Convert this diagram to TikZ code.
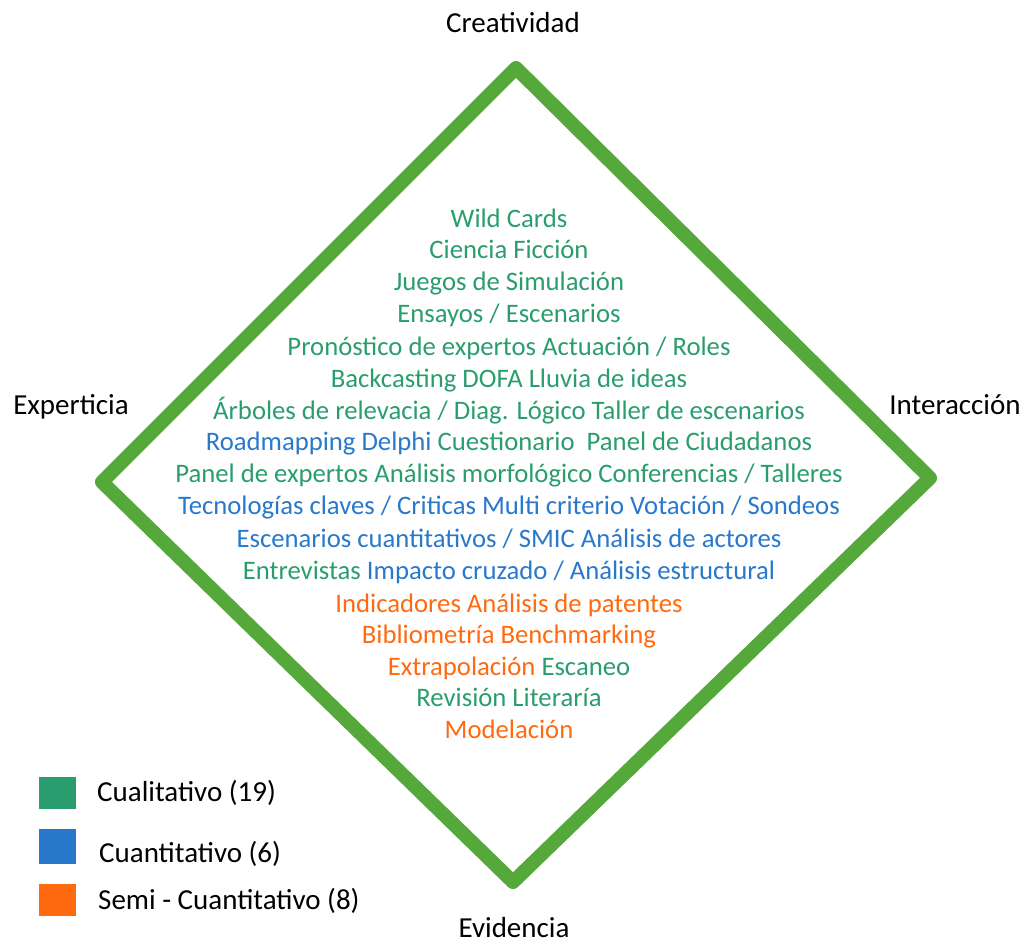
\documentclass[tikz,border=0pt]{standalone}
\usepackage{fontspec}
\setmainfont{Carlito}
\definecolor{dgreen}{HTML}{55A83A}
\definecolor{qgreen}{HTML}{2A9D6E}
\definecolor{qblue}{HTML}{2878CC}
\definecolor{qorange}{HTML}{FF6A10}
\tikzset{
  line/.style={font=\fontsize{26.7}{30}\selectfont, inner sep=0pt, text height=0.72em, text depth=0.22em, anchor=center},
  corner/.style={font=\fontsize{29}{33}\selectfont, inner sep=0pt, text height=0.72em, text depth=0.22em, text=black},
  legbox/.style={draw=none, minimum width=37pt, minimum height=32pt, inner sep=0pt},
  legtext/.style={font=\fontsize{29}{33}\selectfont, inner sep=0pt, anchor=west, text height=0.72em, text depth=0.22em}
}
\newcommand{\cg}[1]{\textcolor{qgreen}{#1}}
\newcommand{\cb}[1]{\textcolor{qblue}{#1}}
\newcommand{\co}[1]{\textcolor{qorange}{#1}}
\begin{document}
\begin{tikzpicture}[x=1pt,y=-1pt]
\useasboundingbox (0,0) rectangle (1023,943);
\coordinate (T) at (516,68);
\coordinate (R) at (930,478);
\coordinate (B) at (513,882);
\coordinate (L) at (102,482);
\draw[dgreen, line width=14pt, line join=round] (T) -- (R) -- (B) -- (L) -- cycle;

\node[corner] (c) at (513,30) {Creatividad};
\node[corner] (e) at (71,412) {Experticia};
\node[corner] (i) at (955,412) {Interacción};
\node[corner, text depth=0pt] (v) at (514,934) {Evidencia};

\node[line] (l1) at (509,225) {\cg{Wild Cards}};
\node[line] (l2) at (509,256) {\cg{Ciencia Ficción}};
\node[line] (l3) at (509,288) {\cg{Juegos de Simulación}};
\node[line] (l4) at (509,320) {\cg{Ensayos / Escenarios}};
\node[line] (l5) at (509,353) {\cg{Pronóstico de expertos Actuación / Roles}};
\node[line] (l6) at (509,385) {\cg{Backcasting DOFA Lluvia de ideas}};
\node[line] (l7) at (509,417) {\cg{Árboles de relevacia / Diag. Lógico Taller de escenarios}};
\node[line] (l8) at (509,448) {\cb{Roadmapping Delphi} \cg{Cuestionario\ \ Panel de Ciudadanos}};
\node[line] (l9) at (509,480) {\cg{Panel de expertos Análisis morfológico Conferencias / Talleres}};
\node[line] (l10) at (509,512) {\cb{Tecnologías claves / Criticas Multi criterio Votación / Sondeos}};
\node[line] (l11) at (509,545) {\cb{Escenarios cuantitativos / SMIC Análisis de actores}};
\node[line] (l12) at (509,577) {\cg{Entrevistas} \cb{Impacto cruzado / Análisis estructural}};
\node[line] (l13) at (509,610) {\co{Indicadores Análisis de patentes}};
\node[line] (l14) at (509,641) {\co{Bibliometría Benchmarking}};
\node[line] (l15) at (509,673) {\co{Extrapolación} \cg{Escaneo}};
\node[line] (l16) at (509,704) {\cg{Revisión Literaría}};
\node[line] (l17) at (509,736) {\co{Modelación}};

\node[legbox, fill=qgreen] (g1) at (57.5,792.5) {};
\node[legbox, fill=qblue, minimum height=35pt] (g2) at (57,846.5) {};
\node[legbox, fill=qorange] (g3) at (57,899.5) {};
\node[legtext] (t1) at (97,799) {Cualitativo (19)};
\node[legtext] (t2) at (99,860) {Cuantitativo (6)};
\node[legtext] (t3) at (98,907) {Semi - Cuantitativo (8)};
\end{tikzpicture}
\end{document}
